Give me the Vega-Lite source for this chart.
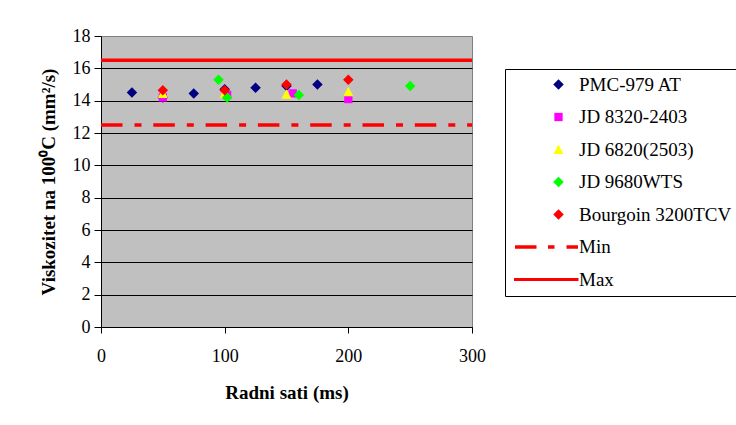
{
  "$schema": "https://vega.github.io/schema/vega-lite/v6.json",
  "width": 371,
  "height": 291,
  "autosize": {"type": "none"},
  "padding": {"left": 101, "top": 36, "right": 264, "bottom": 98},
  "background": "white",
  "config": {
    "font": "'Liberation Serif', 'Times New Roman', serif",
    "view": {"fill": "#C0C0C0", "stroke": null},
    "axis": {
      "labelFont": "'Liberation Serif', 'Times New Roman', serif",
      "labelFontSize": 18,
      "labelColor": "black",
      "labelOverlap": false,
      "labelFlush": false,
      "titleFont": "'Liberation Serif', 'Times New Roman', serif",
      "titleFontSize": 19,
      "titleFontWeight": "bold",
      "titleColor": "black",
      "domainColor": "black",
      "tickColor": "black",
      "gridOpacity": 1,
      "gridWidth": 1
    },
    "legend": {
      "labelFont": "'Liberation Serif', 'Times New Roman', serif",
      "labelFontSize": 19,
      "labelColor": "black"
    }
  },
  "datasets": {
    "measurements": [
      {"series": "PMC-979 AT", "hours": 25, "visc": 14.5},
      {"series": "PMC-979 AT", "hours": 50, "visc": 14.2},
      {"series": "PMC-979 AT", "hours": 75, "visc": 14.45},
      {"series": "PMC-979 AT", "hours": 100, "visc": 14.7},
      {"series": "PMC-979 AT", "hours": 125, "visc": 14.8},
      {"series": "PMC-979 AT", "hours": 150, "visc": 14.9},
      {"series": "PMC-979 AT", "hours": 175, "visc": 15.0},
      {"series": "JD 8320-2403", "hours": 50, "visc": 14.2},
      {"series": "JD 8320-2403", "hours": 102, "visc": 14.35},
      {"series": "JD 8320-2403", "hours": 155, "visc": 14.45},
      {"series": "JD 8320-2403", "hours": 200, "visc": 14.1},
      {"series": "JD 6820(2503)", "hours": 50, "visc": 14.45},
      {"series": "JD 6820(2503)", "hours": 100, "visc": 14.45},
      {"series": "JD 6820(2503)", "hours": 150, "visc": 14.4},
      {"series": "JD 6820(2503)", "hours": 200, "visc": 14.55},
      {"series": "JD 9680WTS", "hours": 95, "visc": 15.3},
      {"series": "JD 9680WTS", "hours": 102, "visc": 14.2},
      {"series": "JD 9680WTS", "hours": 160, "visc": 14.35},
      {"series": "JD 9680WTS", "hours": 250, "visc": 14.9},
      {"series": "Bourgoin 3200TCV", "hours": 50, "visc": 14.65},
      {"series": "Bourgoin 3200TCV", "hours": 100, "visc": 14.65},
      {"series": "Bourgoin 3200TCV", "hours": 150, "visc": 15.0},
      {"series": "Bourgoin 3200TCV", "hours": 200, "visc": 15.3}
    ],
    "limits": [
      {"series": "Min", "visc": 12.5, "from": 0, "to": 300},
      {"series": "Max", "visc": 16.5, "from": 0, "to": 300}
    ]
  },
  "layer": [
    {
      "data": {"name": "measurements"},
      "mark": {"type": "point", "filled": true, "opacity": 1, "size": 100, "strokeWidth": 0},
      "encoding": {
        "x": {
          "field": "hours",
          "type": "quantitative",
          "title": "Radni sati (ms)",
          "scale": {"domain": [0, 300], "nice": false},
          "axis": {
            "values": [0, 100, 200, 300],
            "tickSize": 6,
            "labelPadding": 14,
            "titlePadding": 18,
            "grid": true,
            "gridColor": {"condition": {"test": "datum.value === 300", "value": "#808080"}, "value": "transparent"}
          }
        },
        "y": {
          "field": "visc",
          "type": "quantitative",
          "title": "Viskozitet na 100⁰C (mm²/s)",
          "scale": {"domain": [0, 18], "nice": false},
          "axis": {
            "values": [0, 2, 4, 6, 8, 10, 12, 14, 16, 18],
            "tickSize": 7,
            "labelPadding": 4,
            "titlePadding": 14,
            "grid": true,
            "gridColor": {"condition": {"test": "datum.value === 18", "value": "#808080"}, "value": "black"}
          }
        },
        "color": {
          "field": "series",
          "type": "nominal",
          "scale": {
            "domain": ["PMC-979 AT", "JD 8320-2403", "JD 6820(2503)", "JD 9680WTS", "Bourgoin 3200TCV", "Min", "Max"],
            "range": ["#000080", "#FF00FF", "#FFFF00", "#00FF00", "#FF0000", "#FF0000", "#FF0000"]
          },
          "legend": {
            "title": null,
            "orient": "none",
            "legendX": 404,
            "legendY": 33,
            "strokeColor": "black",
            "fillColor": "white",
            "padding": 6,
            "rowPadding": 12.5,
            "labelOffset": 11,
            "symbolOffset": 38,
            "symbolSize": 100,
            "symbolStrokeWidth": 0
          }
        },
        "shape": {
          "field": "series",
          "type": "nominal",
          "scale": {
            "domain": ["PMC-979 AT", "JD 8320-2403", "JD 6820(2503)", "JD 9680WTS", "Bourgoin 3200TCV", "Min", "Max"],
            "range": [
              "M-1.05,0L0,-1.05L1.05,0L0,1.05Z",
              "M-0.83,-0.83H0.83V0.83H-0.83Z",
              "M0,-1L1,0.9L-1,0.9Z",
              "M-1.05,0L0,-1.05L1.05,0L0,1.05Z",
              "M-1.05,0L0,-1.05L1.05,0L0,1.05Z",
              "M-8.7,-0.35H-4.4V0.35H-8.7ZM-2.1,-0.35H-0.8V0.35H-2.1ZM1.6,-0.35H3.9V0.35H1.6Z",
              "M-8.9,-0.3H4V0.3H-8.9Z"
            ]
          }
        }
      }
    },
    {
      "data": {"name": "limits"},
      "mark": {"type": "rule", "color": "#FF0000", "strokeWidth": 3.5},
      "encoding": {
        "x": {
          "field": "from",
          "type": "quantitative",
          "title": "Radni sati (ms)",
          "scale": {"domain": [0, 300], "nice": false},
          "axis": {
            "values": [0, 100, 200, 300],
            "tickSize": 6,
            "labelPadding": 14,
            "titlePadding": 18,
            "grid": true,
            "gridColor": {"condition": {"test": "datum.value === 300", "value": "#808080"}, "value": "transparent"}
          }
        },
        "x2": {"field": "to"},
        "y": {
          "field": "visc",
          "type": "quantitative",
          "title": "Viskozitet na 100⁰C (mm²/s)",
          "scale": {"domain": [0, 18], "nice": false},
          "axis": {
            "values": [0, 2, 4, 6, 8, 10, 12, 14, 16, 18],
            "tickSize": 7,
            "labelPadding": 4,
            "titlePadding": 14,
            "grid": true,
            "gridColor": {"condition": {"test": "datum.value === 18", "value": "#808080"}, "value": "black"}
          }
        },
        "strokeDash": {
          "field": "series",
          "type": "nominal",
          "scale": {"domain": ["Min", "Max"], "range": [[21.5, 12, 7, 11.8], [1, 0]]},
          "legend": null
        }
      }
    }
  ]
}
